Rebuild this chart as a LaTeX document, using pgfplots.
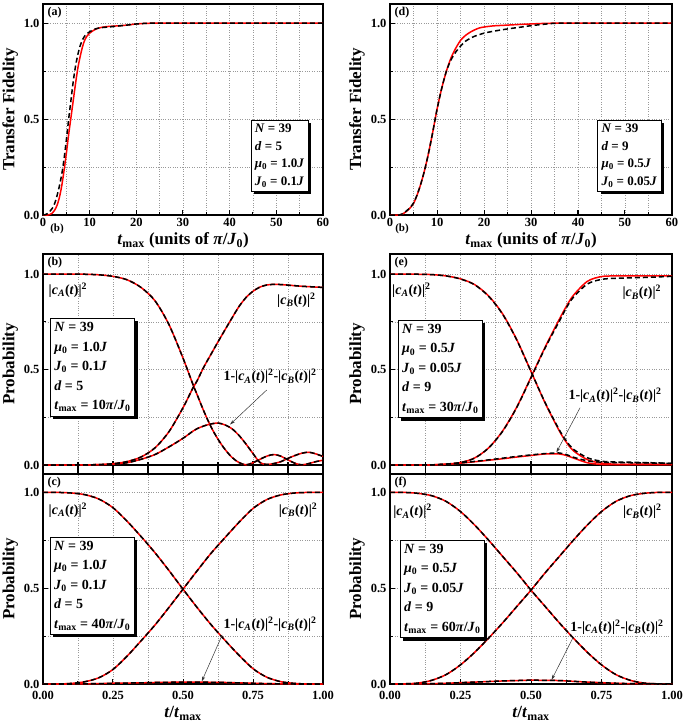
\documentclass[border=0pt]{standalone}
\usepackage{fontspec}
\setmainfont{Liberation Serif}
\usepackage{pgfplots}
\usepackage{pgfplotstable}
\pgfplotsset{compat=1.18}
\usetikzlibrary{shadows,arrows.meta}

\pgfplotstableread{
x r k
0 0 0
0.5 0 0.002
1 0 0.008
1.5 0.003 0.02
2 0.01 0.035
2.5 0.025 0.06
3 0.05 0.1
3.5 0.09 0.15
4 0.15 0.21
4.5 0.23 0.29
5 0.32 0.39
5.5 0.42 0.5
6 0.51 0.6
6.5 0.6 0.7
7 0.69 0.78
7.5 0.77 0.84
8 0.83 0.885
8.5 0.88 0.915
9 0.915 0.935
9.5 0.935 0.947
10 0.948 0.955
11 0.965 0.968
12 0.975 0.975
13 0.98 0.978
14 0.983 0.98
16 0.986 0.985
18 0.99 0.99
20 0.996 0.996
22 0.999 0.999
25 1 1
40 1 1
60 1 1
}\ta

\pgfplotstableread{
x r k
0 0 0
2 0 0
3 0.01 0.012
4 0.03 0.032
5 0.06 0.062
6 0.12 0.12
7 0.2 0.2
8 0.3 0.3
9 0.42 0.42
10 0.55 0.55
11 0.66 0.66
12 0.75 0.75
13 0.82 0.81
14 0.87 0.85
15 0.91 0.88
16 0.935 0.905
17 0.952 0.92
18 0.965 0.932
19 0.975 0.94
20 0.98 0.948
22 0.986 0.958
25 0.99 0.97
28 0.994 0.98
30 0.996 0.987
33 0.999 0.995
36 1 1
45 1 1
60 1 1
}\td

\pgfplotstableread{
x A B L
0 1 0 0
0.1 1 0 0
0.15 0.999 0.001 0.001
0.2 0.996 0.002 0.002
0.25 0.988 0.007 0.005
0.3 0.97 0.018 0.012
0.35 0.93 0.042 0.03
0.4 0.86 0.09 0.055
0.45 0.735 0.175 0.095
0.5 0.56 0.3 0.14
0.536 0.42 0.405 0.178
0.55 0.37 0.44 0.19
0.575 0.28 0.515 0.205
0.6 0.2 0.58 0.215
0.625 0.135 0.645 0.22
0.65 0.082 0.708 0.21
0.675 0.04 0.77 0.19
0.7 0.013 0.83 0.155
0.725 0.001 0.877 0.11
0.75 0.012 0.91 0.06
0.775 0.03 0.932 0.013
0.8 0.047 0.943 0.003
0.825 0.055 0.946 0.008
0.85 0.046 0.945 0.018
0.875 0.027 0.942 0.035
0.9 0.009 0.939 0.05
0.925 0.001 0.936 0.062
0.95 0.008 0.934 0.067
0.975 0.018 0.932 0.058
1 0.025 0.93 0.045
}\tb

\pgfplotstableread{
x Ar Ak Br Bk Lr Lk
0 1 1 0 0 0 0
0.1 0.999 0.999 0 0 0 0
0.15 0.997 0.997 0.001 0.001 0.001 0.001
0.2 0.99 0.99 0.005 0.005 0.004 0.005
0.25 0.975 0.974 0.013 0.013 0.01 0.011
0.3 0.945 0.944 0.037 0.036 0.017 0.019
0.35 0.885 0.883 0.09 0.09 0.025 0.027
0.4 0.79 0.788 0.18 0.178 0.033 0.036
0.45 0.655 0.653 0.305 0.303 0.042 0.045
0.5 0.49 0.49 0.46 0.457 0.05 0.053
0.55 0.325 0.327 0.617 0.613 0.058 0.06
0.6 0.18 0.185 0.762 0.752 0.058 0.063
0.625 0.12 0.127 0.83 0.822 0.05 0.055
0.65 0.075 0.083 0.888 0.878 0.037 0.041
0.7 0.028 0.038 0.962 0.948 0.012 0.022
0.75 0.01 0.02 0.987 0.972 0.003 0.015
0.8 0.004 0.016 0.99 0.978 0.002 0.013
0.85 0.002 0.015 0.99 0.98 0.004 0.012
0.9 0.002 0.013 0.99 0.982 0.005 0.011
0.95 0.002 0.011 0.99 0.985 0.004 0.01
1 0.002 0.008 0.99 0.988 0.003 0.009
}\te

\pgfplotstableread{
x A B L
0 1 0 0
0.05 1 0 0
0.1 0.997 0.003 0
0.15 0.988 0.012 0.001
0.2 0.965 0.033 0.002
0.25 0.92 0.076 0.004
0.3 0.85 0.145 0.005
0.35 0.77 0.225 0.006
0.4 0.685 0.308 0.008
0.45 0.592 0.4 0.009
0.5 0.495 0.495 0.01
0.55 0.4 0.59 0.01
0.6 0.31 0.682 0.009
0.65 0.228 0.764 0.008
0.7 0.15 0.844 0.006
0.75 0.08 0.916 0.004
0.8 0.035 0.963 0.002
0.85 0.012 0.987 0.001
0.9 0.003 0.997 0
0.95 0 1 0
1 0 1 0
}\tc

\pgfplotstableread{
x A B L
0 1 0 0
0.05 1 0.001 0
0.1 0.995 0.005 0.001
0.15 0.982 0.02 0.002
0.2 0.952 0.05 0.004
0.25 0.9 0.1 0.007
0.3 0.83 0.165 0.01
0.35 0.75 0.24 0.013
0.4 0.665 0.32 0.016
0.45 0.58 0.405 0.018
0.5 0.49 0.49 0.02
0.55 0.405 0.58 0.019
0.6 0.32 0.665 0.018
0.65 0.24 0.75 0.014
0.7 0.165 0.83 0.01
0.75 0.1 0.9 0.007
0.8 0.05 0.952 0.004
0.85 0.02 0.982 0.002
0.9 0.005 0.995 0.001
0.95 0.001 1 0
1 0 1 0
}\tf

\pgfplotsset{
  base/.style={
    scale only axis,
    axis line style={line width=1.5pt},
    tick style={black, line width=1pt},
    tick align=inside,
    xtick pos=left, ytick pos=left,
    major tick length=5pt, minor tick length=3pt,
    grid=both,
    major grid style={dotted, gray!80, line width=0.6pt},
    minor grid style={dotted, gray!80, line width=0.6pt},
    /pgf/number format/assume math mode=true,
    tick label style={font=\bfseries\fontsize{12.5}{12.5}\selectfont},
    every axis y label/.style={at={(axis description cs:-0.117,0.5)}, rotate=90, anchor=center,
      font=\bfseries\fontsize{17}{17}\selectfont},
    ytick={0,0.5,1}, minor ytick={0.25,0.75},
    yticklabel style={/pgf/number format/.cd, fixed, fixed zerofill, precision=1},
  },
  fid/.style={base, width=280pt, height=211pt, xmin=0, xmax=60, ymin=0, ymax=1.1,
    xtick={0,10,...,60}, minor xtick={5,15,...,55},
    xlabel={\textit{t}\textsubscript{max} (units of \textit{π}/\textit{J}\textsubscript{0})},
    every axis x label/.style={at={(axis description cs:0.5,-0.142)}, anchor=base,
      font=\bfseries\fontsize{17}{17}\selectfont},
    ylabel={Transfer Fidelity}},
  upper/.style={base, width=280pt, height=220pt, xmin=0, xmax=1, ymin=-0.047, ymax=1.105,
    xtick={0,0.25,...,1}, minor xtick={0.125,0.375,0.625,0.875}, xticklabels={},
    ylabel={Probability}},
  lower/.style={base, width=280pt, height=210pt, xmin=0, xmax=1, ymin=0, ymax=1.096,
    xtick={0,0.25,...,1}, minor xtick={0.125,0.375,0.625,0.875},
    xticklabel style={yshift=-4pt, /pgf/number format/.cd, fixed, fixed zerofill, precision=2},
    xlabel={\textit{t}/\textit{t}\textsubscript{max}},
    every axis x label/.style={at={(axis description cs:0.5,-0.16)}, anchor=base,
      font=\bfseries\fontsize{17}{17}\selectfont},
    ylabel={Probability}},
  redl/.style={color=red, line width=1.5pt, smooth},
  blkd/.style={color=black, line width=1.5pt, dash pattern=on 5pt off 3pt, smooth},
}
\tikzset{
  inset/.style={draw=black, fill=white, line width=0.6pt, align=left, anchor=north west, inner sep=4pt,
    drop shadow={shadow xshift=3pt, shadow yshift=-3pt, fill=black, opacity=1}},
  plab/.style={anchor=north west, inner sep=1pt, font=\bfseries\fontsize{12}{12}\selectfont},
  clab/.style={font=\bfseries\fontsize{14}{14}\selectfont, inner sep=0pt},
  arr/.style={-{Stealth[length=5pt,width=3pt]}, line width=0.5pt, black!80},
}
\newcommand{\cA}{|\textit{c}\textsubscript{\textit{A}}(\textit{t})|\textsuperscript{2}}
\newcommand{\cB}{|\textit{c}\textsubscript{\textit{B}}(\textit{t})|\textsuperscript{2}}
\newcommand{\leak}{1-\cA-\cB}

\begin{document}
\begin{tikzpicture}
\useasboundingbox (0,0) rectangle (685pt,-726pt);

% (a)
\begin{axis}[fid, at={(43pt,-215pt)}, anchor=south west]
\addplot[redl] table[x=x,y=r]{\ta};
\addplot[blkd] table[x=x,y=k]{\ta};
\node[plab] at (rel axis cs:0.012,0.99) {(a)};
\node[inset, font=\bfseries\fontsize{13}{17.5}\selectfont] at (axis cs:44.5,0.495)
 {\textit{N} = 39\\\textit{d} = 5\\\textit{μ}\textsubscript{0} = 1.0\textit{J}\\\textit{J}\textsubscript{0} = 0.1\textit{J}};
\end{axis}

% (d)
\begin{axis}[fid, at={(390pt,-215pt)}, anchor=south west, width=282pt]
\addplot[redl] table[x=x,y=r]{\td};
\addplot[blkd] table[x=x,y=k]{\td};
\node[plab] at (rel axis cs:0.012,0.99) {(d)};
\node[inset, font=\bfseries\fontsize{13}{17.5}\selectfont] at (axis cs:44.1,0.495)
 {\textit{N} = 39\\\textit{d} = 9\\\textit{μ}\textsubscript{0} = 0.5\textit{J}\\\textit{J}\textsubscript{0} = 0.05\textit{J}};
\end{axis}

\node[font=\bfseries\fontsize{11}{11}\selectfont] at (57pt,-229pt) {(b)};
\node[font=\bfseries\fontsize{11}{11}\selectfont] at (402pt,-229pt) {(b)};

% (b)
\begin{axis}[upper, at={(43pt,-474pt)}, anchor=south west]
\addplot[black, line width=1.2pt, forget plot] coordinates {(0,0) (1,0)};
\addplot[black, line width=1.2pt, forget plot, unbounded coords=jump] coordinates {
(0.125,-0.047) (0.125,0.014) (0.125,nan)
(0.25,-0.047) (0.25,0.022) (0.25,nan)
(0.375,-0.047) (0.375,0.014) (0.375,nan)
(0.5,-0.047) (0.5,0.022) (0.5,nan)
(0.625,-0.047) (0.625,0.014) (0.625,nan)
(0.75,-0.047) (0.75,0.022) (0.75,nan)
(0.875,-0.047) (0.875,0.014)};
\addplot[redl] table[x=x,y=A]{\tb};
\addplot[redl] table[x=x,y=B]{\tb};
\addplot[redl] table[x=x,y=L]{\tb};
\addplot[blkd] table[x=x,y=A]{\tb};
\addplot[blkd] table[x=x,y=B]{\tb};
\addplot[blkd] table[x=x,y=L]{\tb};
\node[plab] at (rel axis cs:0.012,0.99) {(b)};
\node[clab] at (axis cs:0.089,0.916) {\cA};
\node[clab] at (axis cs:0.905,0.864) {\cB};
\node[clab] at (axis cs:0.811,0.463) {\leak};
\draw[arr] (axis cs:0.799,0.393) -- (axis cs:0.668,0.212);
\node[inset, font=\bfseries\fontsize{14}{19.5}\selectfont] at (axis cs:0.025,0.77)
 {\textit{N} = 39\\\textit{μ}\textsubscript{0} = 1.0\textit{J}\\\textit{J}\textsubscript{0} = 0.1\textit{J}\\\textit{d} = 5\\\textit{t}\textsubscript{max} = 10\textit{π}/\textit{J}\textsubscript{0}};
\end{axis}

% (e)
\begin{axis}[upper, at={(390pt,-474pt)}, anchor=south west, width=282pt]
\addplot[black, line width=1.2pt, forget plot] coordinates {(0,0) (1,0)};
\addplot[black, line width=1.2pt, forget plot, unbounded coords=jump] coordinates {
(0.125,-0.047) (0.125,0.014) (0.125,nan)
(0.25,-0.047) (0.25,0.022) (0.25,nan)
(0.375,-0.047) (0.375,0.014) (0.375,nan)
(0.5,-0.047) (0.5,0.022) (0.5,nan)
(0.625,-0.047) (0.625,0.014) (0.625,nan)
(0.75,-0.047) (0.75,0.022) (0.75,nan)
(0.875,-0.047) (0.875,0.014)};
\addplot[redl] table[x=x,y=Ar]{\te};
\addplot[redl] table[x=x,y=Br]{\te};
\addplot[redl] table[x=x,y=Lr]{\te};
\addplot[blkd] table[x=x,y=Ak]{\te};
\addplot[blkd] table[x=x,y=Bk]{\te};
\addplot[blkd] table[x=x,y=Lk]{\te};
\node[plab] at (rel axis cs:0.012,0.99) {(e)};
\node[clab] at (axis cs:0.076,0.916) {\cA};
\node[clab] at (axis cs:0.893,0.903) {\cB};
\node[clab] at (axis cs:0.798,0.364) {\leak};
\draw[arr] (axis cs:0.674,0.30) -- (axis cs:0.59,0.066);
\node[inset, font=\bfseries\fontsize{14}{19.5}\selectfont] at (axis cs:0.028,0.76)
 {\textit{N} = 39\\\textit{μ}\textsubscript{0} = 0.5\textit{J}\\\textit{J}\textsubscript{0} = 0.05\textit{J}\\\textit{d} = 9\\\textit{t}\textsubscript{max} = 30\textit{π}/\textit{J}\textsubscript{0}};
\end{axis}

% (c)
\begin{axis}[lower, at={(43pt,-684pt)}, anchor=south west]
\addplot[redl] table[x=x,y=A]{\tc};
\addplot[redl] table[x=x,y=B]{\tc};
\addplot[redl] table[x=x,y=L]{\tc};
\addplot[blkd] table[x=x,y=A]{\tc};
\addplot[blkd] table[x=x,y=B]{\tc};
\addplot[blkd] table[x=x,y=L]{\tc};
\node[plab] at (rel axis cs:0.012,0.99) {(c)};
\node[clab] at (axis cs:0.089,0.907) {\cA};
\node[clab] at (axis cs:0.911,0.907) {\cB};
\node[clab] at (axis cs:0.811,0.312) {\leak};
\draw[arr] (axis cs:0.64,0.256) -- (axis cs:0.567,0.014);
\node[inset, font=\bfseries\fontsize{14}{19.5}\selectfont] at (axis cs:0.024,0.769)
 {\textit{N} = 39\\\textit{μ}\textsubscript{0} = 1.0\textit{J}\\\textit{J}\textsubscript{0} = 0.1\textit{J}\\\textit{d} = 5\\\textit{t}\textsubscript{max} = 40\textit{π}/\textit{J}\textsubscript{0}};
\end{axis}

% (f)
\begin{axis}[lower, at={(390pt,-684pt)}, anchor=south west, width=282pt]
\addplot[redl] table[x=x,y=A]{\tf};
\addplot[redl] table[x=x,y=B]{\tf};
\addplot[redl] table[x=x,y=L]{\tf};
\addplot[blkd] table[x=x,y=A]{\tf};
\addplot[blkd] table[x=x,y=B]{\tf};
\addplot[blkd] table[x=x,y=L]{\tf};
\node[plab] at (rel axis cs:0.012,0.99) {(f)};
\node[clab] at (axis cs:0.08,0.9) {\cA};
\node[clab] at (axis cs:0.895,0.9) {\cB};
\node[clab] at (axis cs:0.805,0.295) {\leak};
\draw[arr] (axis cs:0.65,0.245) -- (axis cs:0.573,0.022);
\node[inset, font=\bfseries\fontsize{14}{19.5}\selectfont] at (axis cs:0.035,0.753)
 {\textit{N} = 39\\\textit{μ}\textsubscript{0} = 0.5\textit{J}\\\textit{J}\textsubscript{0} = 0.05\textit{J}\\\textit{d} = 9\\\textit{t}\textsubscript{max} = 60\textit{π}/\textit{J}\textsubscript{0}};
\end{axis}
\end{tikzpicture}
\end{document}
